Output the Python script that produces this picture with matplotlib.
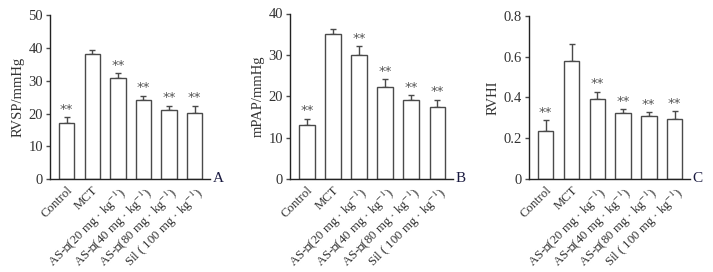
import matplotlib
matplotlib.use("Agg")
import matplotlib.pyplot as plt
import numpy as np

plt.rcParams['font.family'] = ['Liberation Serif', 'Noto Sans CJK SC', 'DejaVu Serif']
plt.rcParams['mathtext.fontset'] = 'stix'

categories = ["Control", "MCT",
              "AS-Ⅳ(20 mg · kg$^{-1}$)", "AS-Ⅳ(40 mg · kg$^{-1}$)",
              "AS-Ⅳ(80 mg · kg$^{-1}$)", "Sil ( 100 mg · kg$^{-1}$)"]

rvsp_mean = [17.0, 38.1, 30.8, 24.1, 21.0, 20.3]
rvsp_err = [1.8, 1.2, 1.5, 1.3, 1.3, 2.1]

mpap_mean = [13.1, 35.0, 29.9, 22.3, 19.0, 17.5]
mpap_err = [1.4, 1.3, 2.2, 1.8, 1.2, 1.7]

rvhi_mean = [0.237, 0.577, 0.393, 0.323, 0.307, 0.296]
rvhi_err = [0.051, 0.086, 0.034, 0.018, 0.020, 0.035]

sig = ["**", "", "**", "**", "**", "**"]

panels = [
    dict(mean=rvsp_mean, err=rvsp_err, ylabel="RVSP/mmHg", ylim=50, ticks=[0, 10, 20, 30, 40, 50],
         ticklabels=["0", "10", "20", "30", "40", "50"], letter="A",
         rect=[50/713, 1-179/272, 160/713, (179-15.3)/272]),
    dict(mean=mpap_mean, err=mpap_err, ylabel="mPAP/mmHg", ylim=40, ticks=[0, 10, 20, 30, 40],
         ticklabels=["0", "10", "20", "30", "40"], letter="B",
         rect=[290/713, 1-179/272, 163/713, (179-13.5)/272]),
    dict(mean=rvhi_mean, err=rvhi_err, ylabel="RVHI", ylim=0.8, ticks=[0, 0.2, 0.4, 0.6, 0.8],
         ticklabels=["0", "0.2", "0.4", "0.6", "0.8"], letter="C",
         rect=[529/713, 1-179/272, 161/713, (179-15.7)/272]),
]

fig = plt.figure(figsize=(7.13, 2.72), dpi=100)
txt = '#333333'
edge = '#4a4a4a'
x = np.arange(len(categories))
for p in panels:
    ax = fig.add_axes(p['rect'])
    ax.bar(x, p['mean'], width=0.6, color='white', edgecolor=edge, linewidth=1.0, zorder=2)
    yerr = np.array([np.zeros(len(p['err'])), p['err']])
    ax.errorbar(x, p['mean'], yerr=yerr, fmt='none', ecolor=edge, elinewidth=1.0,
                capsize=2.5, capthick=1.0, zorder=1)
    for xi, m, e, s in zip(x, p['mean'], p['err'], sig):
        if s:
            ax.text(xi, m + e + p['ylim']*0.01, s, ha='center', va='bottom',
                    fontsize=9.5, color='#555555', family='DejaVu Sans')
    ax.set_xlim(-0.65, 5.6)
    ax.set_ylim(0, p['ylim'])
    ax.set_yticks(p['ticks'])
    ax.set_yticklabels(p['ticklabels'], fontsize=10.5, color=txt)
    ax.set_ylabel(p['ylabel'], fontsize=10.5, color=txt, labelpad=3)
    ax.set_xticks(x)
    ax.set_xticklabels(categories, rotation=45, ha='right', rotation_mode='anchor',
                       fontsize=9.2, color=txt)
    ax.tick_params(axis='x', length=0, pad=4)
    ax.tick_params(axis='y', length=3, width=1.0, color=edge, pad=2)
    for s in ['top', 'right']:
        ax.spines[s].set_visible(False)
    for s in ['left', 'bottom']:
        ax.spines[s].set_color('#222222')
        ax.spines[s].set_linewidth(1.0)
    ax.text(1.015, 0.0, p['letter'], transform=ax.transAxes, ha='left', va='center',
            fontsize=11, color='#1a1a40')

fig.savefig("out.png", dpi=100)
